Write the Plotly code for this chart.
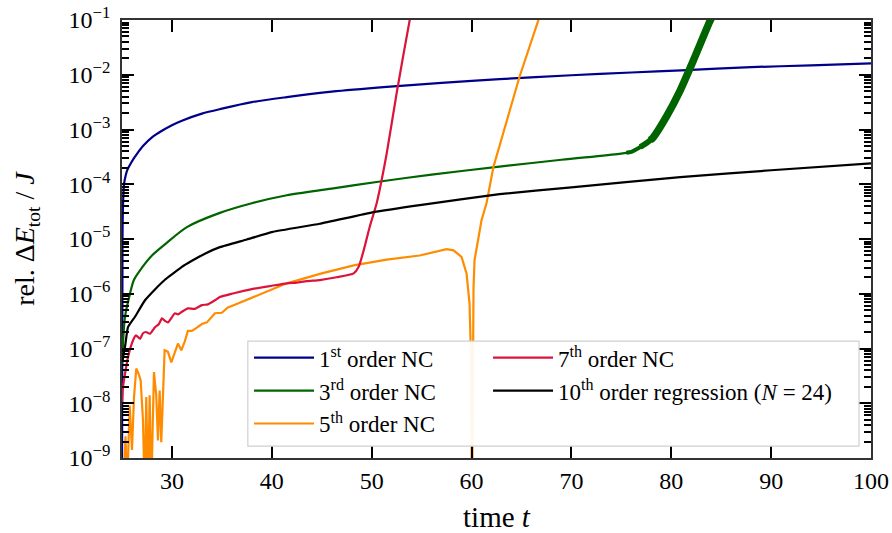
import plotly.graph_objects as go

# ---------------- data ----------------
blue_t = [25.0, 25.05, 25.1, 25.2, 25.35, 25.5, 25.7, 25.9, 26.2, 26.5, 27.1, 28.0, 29.0,
          30.0, 31.0, 33.0, 35.0, 38.0, 41.5, 46.0, 51.5, 57.0, 62.8, 70.0, 76.0, 81.0,
          88.0, 94.0, 100.0]
blue_v = [3e-10, 1e-5, 4e-5, 1.0e-4, 1.4e-4, 1.75e-4, 2.1e-4, 2.45e-4, 3.0e-4, 3.6e-4, 5.0e-4,
          7.2e-4, 9.5e-4, 1.2e-3, 1.45e-3, 1.95e-3, 2.4e-3, 3.16e-3, 3.9e-3, 4.9e-3, 6.0e-3,
          7.1e-3, 8.3e-3, 9.8e-3, 1.1e-2, 1.2e-2, 1.38e-2, 1.48e-2, 1.62e-2]

green_t = [25.0, 25.3, 25.8, 26.2, 27.0, 28.0, 29.3, 31.5, 34.8, 38.0, 41.5, 46.0, 50.5,
           56.0, 62.8, 69.0, 74.8, 76.0]
green_v = [5e-8, 3.8e-7, 1.0e-6, 1.8e-6, 3.0e-6, 5.0e-6, 8.0e-6, 1.65e-5, 3.0e-5, 4.5e-5,
           6.3e-5, 8.3e-5, 1.1e-4, 1.5e-4, 2.1e-4, 2.8e-4, 3.6e-4, 3.9e-4]
# fast-oscillating part of the 3rd order curve (drawn as a band that widens)
green_onset_t = [75.5, 76.0, 76.9, 77.6, 78.2]
green_onset_v = [3.75e-4, 3.9e-4, 4.8e-4, 5.8e-4, 7.2e-4]
green_mid_t = [76.9, 77.6, 78.2, 79.5]
green_mid_v = [4.8e-4, 5.8e-4, 7.2e-4, 1.7e-3]
green_burst_t = [77.9, 78.2, 79.5, 80.9, 82.2, 83.9, 84.5]
green_burst_v = [6.4e-4, 7.2e-4, 1.7e-3, 5.2e-3, 1.8e-2, 9.8e-2, 1.6e-1]

orange_t = [25.15, 25.35, 25.5, 25.77, 26.0, 26.2, 26.43, 26.65, 26.87, 27.1, 27.27, 27.43,
            27.6, 27.77, 27.93, 28.2, 28.43, 28.6, 28.77, 28.93, 29.27, 29.6, 29.94, 30.34,
            30.6, 30.94, 31.27, 31.6, 32.0, 32.5, 33.0, 33.5, 34.3, 35.0, 35.6, 36.3, 37.0,
            38.1, 41.5, 45.0, 48.2, 51.5, 54.8, 57.5, 58.2, 59.0, 59.5, 59.8, 59.95, 60.05,
            60.15, 60.2, 60.3, 60.7, 61.0, 61.5, 62.2, 62.8, 64.8, 66.7, 67.0]
orange_v = [2.5e-10, 2.5e-9, 2.5e-10, 9.1e-9, 1.4e-9, 1.26e-8, 4.3e-8, 3.5e-8, 2.6e-8, 4.9e-9,
            2.5e-10, 1.3e-8, 2.5e-10, 1.4e-8, 2.5e-10, 3.7e-8, 1.4e-8, 2.1e-9, 1.7e-8, 1.95e-9,
            9.3e-8, 8.7e-8, 5.6e-8, 8.7e-8, 1.23e-7, 9.3e-8, 1.32e-7, 2.1e-7, 2.1e-7, 2.4e-7,
            2.8e-7, 3.0e-7, 4.4e-7, 4.5e-7, 5.6e-7, 6.3e-7, 7.1e-7, 8.7e-7, 1.55e-6, 2.35e-6,
            3.3e-6, 4.2e-6, 5.0e-6, 6.5e-6, 6.2e-6, 4.7e-6, 2.35e-6, 6.6e-7, 6.3e-8, 1e-10,
            2.5e-7, 1.3e-6, 4.1e-6, 1.1e-5, 2.2e-5, 4.5e-5, 2.1e-4, 5.0e-4, 9.1e-3, 0.1, 0.16]

red_t = [25.0, 25.1, 25.6, 26.1, 26.4, 26.8, 27.1, 27.4, 27.8, 28.3, 28.7, 29.0, 29.3, 29.6,
         30.3, 30.6, 31.0, 31.6, 32.3, 33.0, 33.6, 34.3, 34.8, 36.0, 38.1, 40.0, 41.5, 42.5,
         43.5, 44.8, 46.5, 48.2, 48.7, 49.2, 49.8, 50.5, 51.5, 52.5, 53.8, 54.2]
red_v = [1.0e-8, 2.0e-8, 6.9e-8, 1.4e-7, 1.74e-7, 1.5e-7, 1.9e-7, 2.0e-7, 1.86e-7, 2.45e-7,
         2.8e-7, 3.55e-7, 3.2e-7, 3.0e-7, 4.4e-7, 4.2e-7, 4.7e-7, 5.4e-7, 5.3e-7, 6.2e-7,
         6.4e-7, 7.6e-7, 8.7e-7, 1.0e-6, 1.23e-6, 1.4e-6, 1.55e-6, 1.6e-6, 1.7e-6, 1.78e-6,
         2.0e-6, 2.35e-6, 3.1e-6, 6.2e-6, 1.66e-5, 4.5e-5, 3.6e-4, 4.6e-3, 9.8e-2, 2e-1]

black_t = [25.05, 25.3, 25.6, 26.3, 27.3, 28.3, 29.3, 30.2, 31.0, 32.0, 33.3, 34.8, 37.5,
           40.1, 44.8, 50.2, 55.0, 62.8, 70.0, 80.9, 90.0, 100.0]
black_v = [6e-8, 1.07e-7, 2.45e-7, 3.8e-7, 7.6e-7, 1.2e-6, 1.8e-6, 2.4e-6, 3.1e-6, 4.0e-6,
           5.4e-6, 7.1e-6, 9.8e-6, 1.35e-5, 1.9e-5, 3.1e-5, 4.2e-5, 6.6e-5, 8.8e-5, 1.35e-4,
           1.8e-4, 2.4e-4]

series_names = ["1<sup>st</sup> order NC", "3<sup>rd</sup> order NC", "5<sup>th</sup> order NC",
                "7<sup>th</sup> order NC", "10<sup>th</sup> order regression (<i>N</i> = 24)"]
series_colors = ["#00008B", "#006400", "#FF8C00", "#DC143C", "#000000"]

x_ticks = [30, 40, 50, 60, 70, 80, 90, 100]
y_ticks = [1e-9, 1e-8, 1e-7, 1e-6, 1e-5, 1e-4, 1e-3, 1e-2, 1e-1]
y_ticktext = ["10<sup>\u2212%d</sup>" % k for k in [9, 8, 7, 6, 5, 4, 3, 2, 1]]

FONT = "Liberation Serif"
LW = 2.2

fig = go.Figure()
fig.add_trace(go.Scatter(x=blue_t, y=blue_v, mode="lines", name=series_names[0],
                         line=dict(color=series_colors[0], width=LW, shape="spline", smoothing=0.8),
                         legend="legend"))
fig.add_trace(go.Scatter(x=green_t, y=green_v, mode="lines", name=series_names[1],
                         line=dict(color=series_colors[1], width=LW, shape="spline", smoothing=0.8),
                         legend="legend"))
fig.add_trace(go.Scatter(x=green_onset_t, y=green_onset_v, mode="lines", showlegend=False,
                         line=dict(color=series_colors[1], width=4, shape="spline", smoothing=0.6)))
fig.add_trace(go.Scatter(x=green_mid_t, y=green_mid_v, mode="lines", showlegend=False,
                         line=dict(color=series_colors[1], width=5.8, shape="spline", smoothing=0.6)))
fig.add_trace(go.Scatter(x=green_burst_t, y=green_burst_v, mode="lines", showlegend=False,
                         line=dict(color=series_colors[1], width=7.5, shape="spline", smoothing=0.6)))
fig.add_trace(go.Scatter(x=orange_t, y=orange_v, mode="lines", name=series_names[2],
                         line=dict(color=series_colors[2], width=LW), legend="legend"))
fig.add_trace(go.Scatter(x=red_t, y=red_v, mode="lines", name=series_names[3],
                         line=dict(color=series_colors[3], width=LW, shape="spline", smoothing=0.5),
                         legend="legend2"))
fig.add_trace(go.Scatter(x=black_t, y=black_v, mode="lines", name=series_names[4],
                         line=dict(color=series_colors[4], width=LW, shape="spline", smoothing=0.4),
                         legend="legend2"))

# legend frame
fig.add_shape(type="rect", xref="paper", yref="paper", x0=0.168, x1=0.984, y0=0.027, y1=0.267,
              line=dict(color="#d0d0d0", width=1.2), fillcolor="rgba(255,255,255,0.93)",
              layer="above")

legend_common = dict(bgcolor="rgba(0,0,0,0)", borderwidth=0,
                     font=dict(family=FONT, size=23, color="black"),
                     xanchor="left", yanchor="top", tracegroupgap=0, itemwidth=60)

fig.update_layout(
    template="none",
    width=892, height=533,
    margin=dict(l=122, r=21, t=20, b=75, autoexpand=False),
    paper_bgcolor="white", plot_bgcolor="white",
    font=dict(family=FONT, size=24, color="black"),
    legend=dict(x=0.1696, y=0.278, **legend_common),
    legend2=dict(x=0.4887, y=0.278, **legend_common),
    xaxis=dict(range=[25, 100], tickvals=x_ticks, ticks="inside", ticklen=12, tickwidth=2,
               tickcolor="black", showline=True, linecolor="#333", linewidth=1.5,
               mirror="allticks", showgrid=False, zeroline=False, automargin=False,
               ticklabeloverflow="allow",
               tickfont=dict(family=FONT, size=24),
               title=dict(text="time <i>t</i>", font=dict(family=FONT, size=29), standoff=16)),
    yaxis=dict(type="log", range=[-9, -1], tickvals=y_ticks, ticktext=y_ticktext,
               ticks="inside", ticklen=12, tickwidth=2, tickcolor="black", ticklabelstandoff=5,
               ticklabeloverflow="allow",
               minor=dict(ticks="inside", ticklen=7, tickwidth=1.5, tickcolor="black", dtick="D1",
                          showgrid=False),
               showline=True, linecolor="#333", linewidth=1.5, mirror="allticks", automargin=False,
               showgrid=False, zeroline=False, tickfont=dict(family=FONT, size=24),
               title=dict(text="rel. \u0394<i>E</i><sub>tot</sub> / <i>J</i>",
                          font=dict(family=FONT, size=28), standoff=26)),
)

# remove the default 8 px page margin so the 892x533 figure fills the window exactly
fig.write_html("out.html", config={"displayModeBar": False},
               post_script="document.body.style.margin = '0px';")
